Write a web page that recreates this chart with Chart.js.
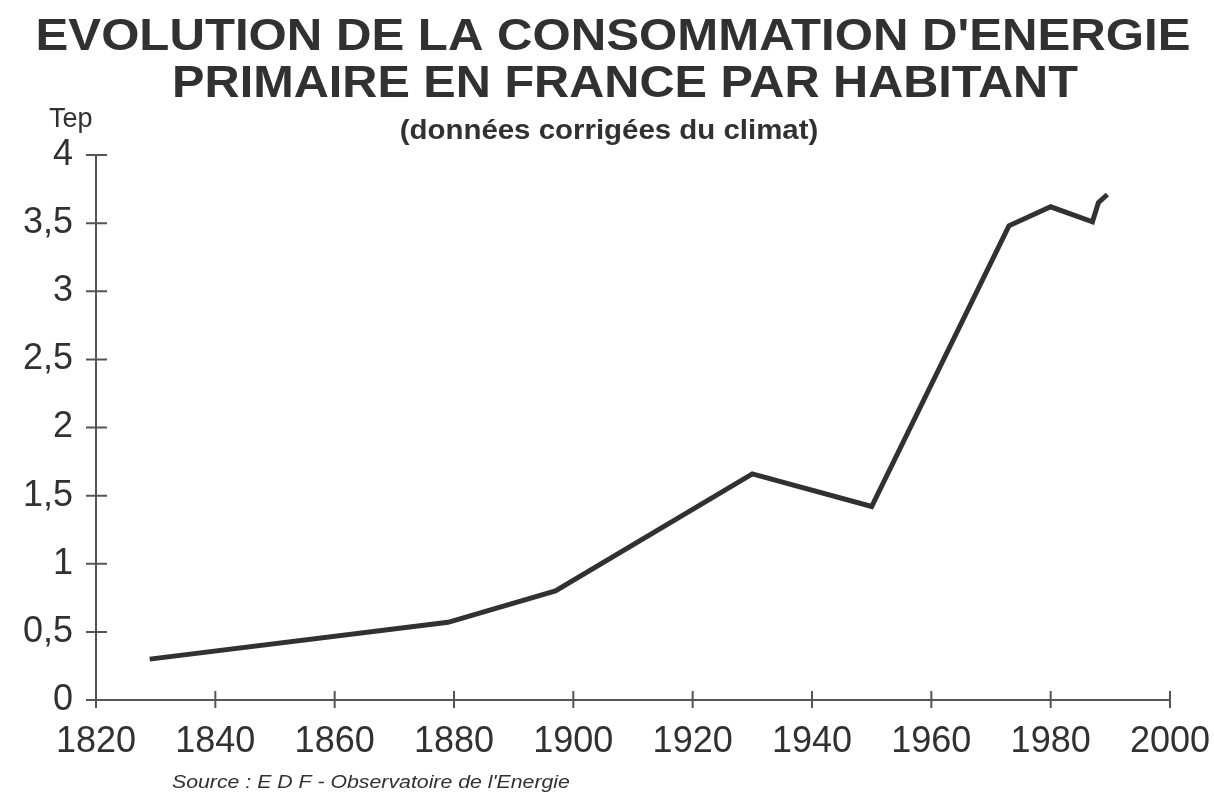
<!DOCTYPE html>
<html lang="fr">
<head>
<meta charset="utf-8">
<title>Evolution de la consommation d'énergie primaire en France par habitant</title>
<script src="https://cdn.jsdelivr.net/npm/chart.js@4/dist/chart.umd.min.js"></script>
<style>
  html, body { margin: 0; padding: 0; background: #ffffff; }
  #wrap { position: relative; width: 1214px; height: 803px; }
  canvas { display: block; }
</style>
</head>
<body>
<div id="wrap"><canvas id="c" width="1214" height="803"></canvas></div>
<script>
// Consommation d'énergie primaire par habitant (Tep), données corrigées du climat
const years  = [1829, 1879, 1897, 1930, 1950, 1973, 1980, 1987, 1988, 1989.5];
const tepPerHab = [0.30, 0.57, 0.80, 1.66, 1.42, 3.48, 3.62, 3.51, 3.65, 3.71];

// Axes
const xTicks = [1820, 1840, 1860, 1880, 1900, 1920, 1940, 1960, 1980, 2000];
const yTicks = [0, 0.5, 1, 1.5, 2, 2.5, 3, 3.5, 4];

// Textes
const titleLines = ["EVOLUTION DE LA CONSOMMATION D'ENERGIE", "PRIMAIRE EN FRANCE PAR HABITANT"];
const subtitle = "(données corrigées du climat)";
const unitLabel = "Tep";
const sourceText = "Source : E D F - Observatoire de l'Energie";

const INK = '#313131';
const AXIS = '#555555';

const points = years.map((y, i) => ({ x: y, y: tepPerHab[i] }));

// Draws a string horizontally stretched from an anchor point (wide grotesque look)
function drawStretched(ctx, text, x, baseline, font, stretch, align) {
  ctx.save();
  ctx.font = font;
  ctx.textAlign = align || 'center';
  ctx.textBaseline = 'alphabetic';
  ctx.fillStyle = INK;
  ctx.translate(x, baseline);
  ctx.scale(stretch, 1);
  ctx.fillText(text, 0, 0);
  ctx.restore();
}

// Titles, unit and source
const annotations = {
  id: 'annotations',
  afterDraw(chart) {
    const ctx = chart.ctx;
    drawStretched(ctx, titleLines[0], 613, 50, 'bold 44px "Liberation Sans", Arial, sans-serif', 1.117);
    drawStretched(ctx, titleLines[1], 625, 97, 'bold 44px "Liberation Sans", Arial, sans-serif', 1.105);
    drawStretched(ctx, subtitle, 609, 139, 'bold 27px "Liberation Sans", Arial, sans-serif', 1.09);
    drawStretched(ctx, unitLabel, 49, 127, '27px "Liberation Sans", Arial, sans-serif', 1.0, 'left');
    drawStretched(ctx, sourceText, 172, 788, 'italic 19px "Liberation Sans", Arial, sans-serif', 1.12, 'left');
  }
};

// Tick marks that cross the axis lines
const crossTicks = {
  id: 'crossTicks',
  afterDatasetsDraw(chart) {
    const ctx = chart.ctx;
    const xs = chart.scales.x, ys = chart.scales.y;
    const x0 = xs.getPixelForValue(xTicks[0]);
    const y0 = ys.getPixelForValue(yTicks[0]);
    ctx.save();
    ctx.strokeStyle = AXIS;
    ctx.lineWidth = 2;
    ctx.beginPath();
    // axis lines
    ctx.moveTo(x0, ys.getPixelForValue(yTicks[yTicks.length - 1]));
    ctx.lineTo(x0, y0 + 6);
    ctx.moveTo(x0 - 8, y0);
    ctx.lineTo(xs.getPixelForValue(xTicks[xTicks.length - 1]), y0);
    yTicks.forEach(v => {
      const p = ys.getPixelForValue(v);
      ctx.moveTo(x0 - 10, p);
      ctx.lineTo(x0 + 11, p);
    });
    xTicks.forEach(v => {
      const p = xs.getPixelForValue(v);
      ctx.moveTo(p, y0 - 9);
      ctx.lineTo(p, y0 + 8);
    });
    ctx.stroke();
    ctx.restore();
  }
};

new Chart(document.getElementById('c'), {
  type: 'line',
  data: {
    datasets: [{
      data: points,
      borderColor: INK,
      borderWidth: 5,
      borderJoinStyle: 'miter',
      pointRadius: 0,
      tension: 0,
      fill: false
    }]
  },
  options: {
    responsive: false,
    animation: false,
    events: [],
    layout: { padding: { top: 155, right: 44, bottom: 0, left: 0 } },
    plugins: { legend: { display: false }, tooltip: { enabled: false }, title: { display: false } },
    scales: {
      x: {
        type: 'linear',
        min: 1820, max: 2000,
        afterBuildTicks(scale) { scale.ticks = xTicks.map(v => ({ value: v })); },
        afterFit(scale) { scale.height = 103; scale.paddingLeft = 0; scale.paddingRight = 0; },
        grid: { display: false },
        border: { display: false },
        ticks: {
          padding: 12,
          color: INK,
          font: { family: '"Liberation Sans", Arial, sans-serif', size: 36 },
          maxRotation: 0,
          autoSkip: false,
          callback: v => String(v)
        }
      },
      y: {
        min: 0, max: 4,
        afterBuildTicks(scale) { scale.ticks = yTicks.map(v => ({ value: v })); },
        afterFit(scale) { scale.width = 96; scale.paddingTop = 0; scale.paddingBottom = 0; },
        grid: { display: false },
        border: { display: false },
        ticks: {
          padding: 15,
          color: INK,
          font: { family: '"Liberation Sans", Arial, sans-serif', size: 36 },
          autoSkip: false,
          callback: v => String(v).replace('.', ',')
        }
      }
    }
  },
  plugins: [crossTicks, annotations]
});
</script>
</body>
</html>
